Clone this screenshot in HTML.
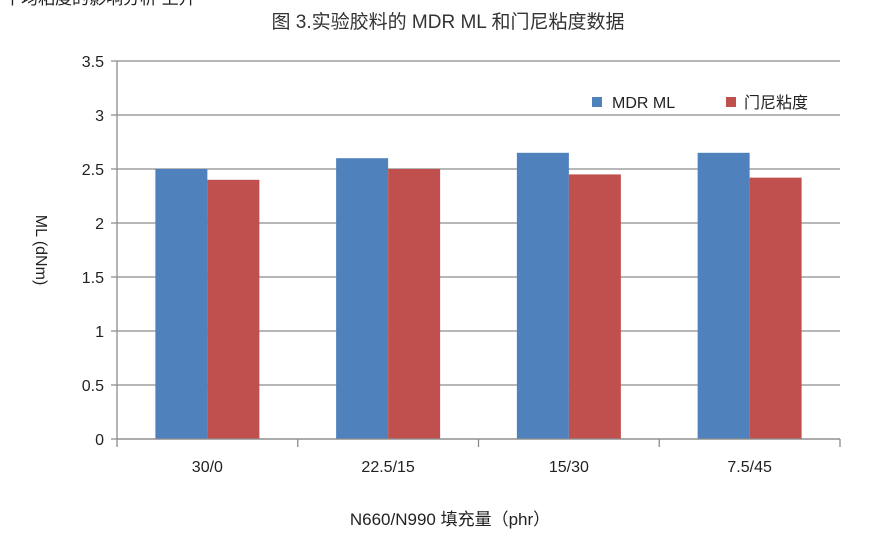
<!DOCTYPE html>
<html><head><meta charset="utf-8">
<style>
html,body{margin:0;padding:0;background:#fff;width:890px;height:555px;overflow:hidden}
svg text{font-family:"Liberation Sans","Noto Sans CJK SC",sans-serif}
</style></head>
<body>
<svg id="chart" width="890" height="555" viewBox="0 0 890 555">
<text x="4" y="4" font-size="17" fill="#222">平均粘度的影响分析 上升</text>
<text x="448" y="28" text-anchor="middle" font-size="19" fill="#333">图 3.实验胶料的 MDR ML 和门尼粘度数据</text>
<g id="grid"></g><g id="bars"></g><g id="axes"></g>
<text transform="translate(36,250) rotate(90)" text-anchor="middle" font-size="16" fill="#222">ML (dNm)</text>
<text x="450" y="525" text-anchor="middle" font-size="17" fill="#222">N660/N990 填充量（phr）</text>
<rect x="592" y="97" width="10" height="10" fill="#4f81bd"/>
<text x="612" y="108" font-size="16" fill="#222">MDR ML</text>
<rect x="726" y="97" width="10" height="10" fill="#c0504d"/>
<text x="744" y="108" font-size="16" fill="#222">门尼粘度</text>
</svg>
<script>
const categories=["30/0","22.5/15","15/30","7.5/45"];
const mdrML=[2.5,2.6,2.65,2.65];
const mooney=[2.4,2.5,2.45,2.42];
const yTicks=[0,0.5,1,1.5,2,2.5,3,3.5];
const NS="http://www.w3.org/2000/svg";
const L=117,R=840,T=61,B=439,yMax=3.5;
const y=v=>B-(v/yMax)*(B-T);
const band=(R-L)/categories.length;
const x=i=>L+band*i;
function mk(tag,attrs,parent){const e=document.createElementNS(NS,tag);for(const k in attrs)e.setAttribute(k,attrs[k]);document.getElementById(parent).appendChild(e);return e;}
yTicks.forEach(t=>{
  const g=mk('line',{x1:L-6,x2:R,y1:y(t),y2:y(t),stroke:'#8c8c8c','stroke-width':1.3},'grid');
  
  
  const tx=mk('text',{x:L-13,y:y(t)+6,'text-anchor':'end','font-size':16,fill:'#222'},'axes');
  tx.textContent=String(t);
  
  
});
const bw=52;
categories.forEach((c,i)=>{
  const cx=x(i)+band/2;
  const b1=mk('rect',{x:cx-bw,y:y(mdrML[i]),width:bw,height:B-y(mdrML[i]),fill:'#4f81bd'},'bars');
  
  
  const b2=mk('rect',{x:cx,y:y(mooney[i]),width:bw,height:B-y(mooney[i]),fill:'#c0504d'},'bars');
  
  
  const tx=mk('text',{x:cx,y:472,'text-anchor':'middle','font-size':16,fill:'#222'},'axes');
  tx.textContent=c;
  
  
});
for(let i=0;i<=categories.length;i++){
  const tk=mk('line',{x1:x(i),x2:x(i),y1:B,y2:B+8,stroke:'#8c8c8c','stroke-width':1.3},'axes');
  
  
}
const ya=mk('line',{x1:L,x2:L,y1:T,y2:B,stroke:'#8c8c8c','stroke-width':1.3},'axes');


const xa=mk('line',{x1:L,x2:R,y1:B,y2:B,stroke:'#8c8c8c','stroke-width':1.3},'axes');


</script>
</body></html>
